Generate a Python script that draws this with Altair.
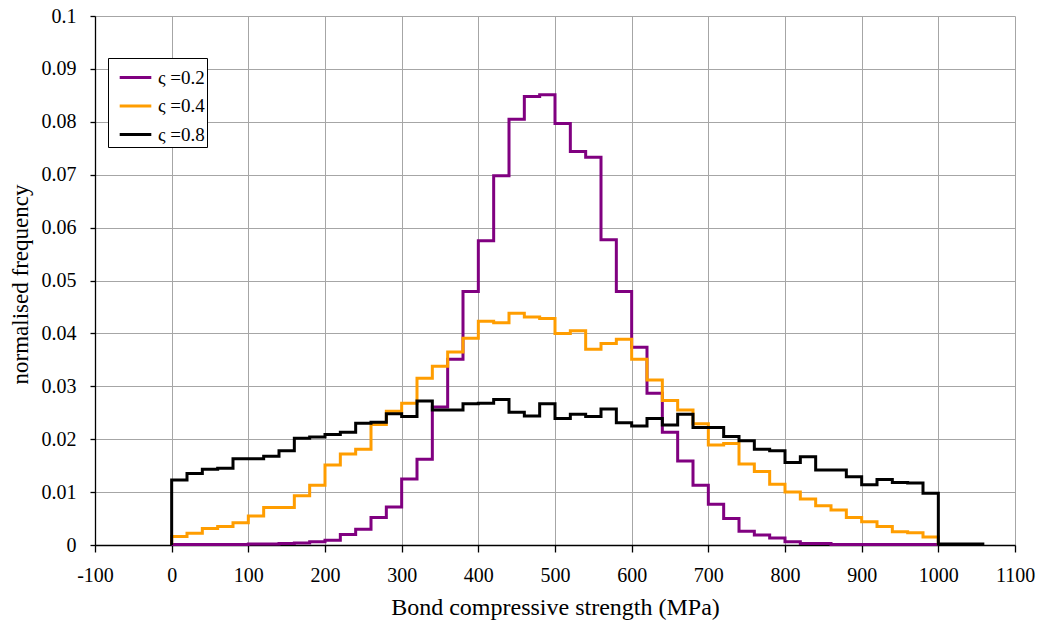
import altair as alt
import pandas as pd
import numpy as np

# Bin values (bin width 20 MPa, bins start at 0 .. 980)
purple_vals = [0.0001, 0.0001, 0.0001, 0.0001, 0.0001, 0.0002, 0.0002, 0.0003, 0.0004, 0.0006,
               0.0009, 0.0020, 0.0030, 0.0052, 0.0072, 0.0125, 0.0162, 0.0261, 0.0351, 0.0479,
               0.0575, 0.0698, 0.0805, 0.0848, 0.0851, 0.0797, 0.0744, 0.0733, 0.0577, 0.0479,
               0.0374, 0.0287, 0.0213, 0.0159, 0.0113, 0.0077, 0.0050, 0.0026, 0.0019, 0.0013,
               0.0006, 0.0003, 0.0003, 0.0001, 0.0001, 0.0001, 0.0001, 0.0001, 0.0001, 0.0001]
orange_vals = [0.0016, 0.0022, 0.0031, 0.0035, 0.0042, 0.0055, 0.0071, 0.0071, 0.0093, 0.0113,
               0.0151, 0.0172, 0.0181, 0.0228, 0.0253, 0.0268, 0.0315, 0.0338, 0.0365, 0.0391,
               0.0423, 0.0420, 0.0438, 0.0431, 0.0428, 0.0400, 0.0405, 0.0370, 0.0381, 0.0389,
               0.0351, 0.0312, 0.0273, 0.0255, 0.0229, 0.0189, 0.0192, 0.0153, 0.0139, 0.0115,
               0.0100, 0.0087, 0.0074, 0.0066, 0.0052, 0.0044, 0.0035, 0.0025, 0.0023, 0.0015]
black_vals = [0.0123, 0.0135, 0.0143, 0.0145, 0.0163, 0.0163, 0.0168, 0.0178, 0.0202, 0.0204,
              0.0209, 0.0213, 0.0230, 0.0232, 0.0248, 0.0243, 0.0272, 0.0255, 0.0255, 0.0267,
              0.0268, 0.0275, 0.0251, 0.0244, 0.0267, 0.0239, 0.0247, 0.0243, 0.0257, 0.0231,
              0.0225, 0.0239, 0.0227, 0.0247, 0.0222, 0.0222, 0.0205, 0.0197, 0.0181, 0.0178,
              0.0156, 0.0167, 0.0142, 0.0142, 0.0129, 0.0114, 0.0124, 0.0118, 0.0117, 0.0098]
black_tail = [0.0002, 0.0002, 0.0002, 0.0002]   # 1000..1060

labels = ["ς =0.2", "ς =0.4", "ς =0.8"]
colors = ["#800080", "#FF9D00", "#000000"]
bin_width = 20

rows = []
def add_series(name, vals, tail):
    i = 0
    rows.append({"s": name, "x": 0, "y": 0.0, "i": i}); i += 1
    for k, v in enumerate(vals):
        rows.append({"s": name, "x": k * bin_width, "y": v, "i": i}); i += 1
    for k, v in enumerate(tail):
        rows.append({"s": name, "x": 1000 + k * bin_width, "y": v, "i": i}); i += 1

add_series(labels[0], purple_vals, [0.0])
add_series(labels[1], orange_vals, [0.0])
add_series(labels[2], black_vals, black_tail)
df = pd.DataFrame(rows)

FONT = "Liberation Serif"

x_enc = alt.X("x:Q", scale=alt.Scale(domain=[-100, 1100], nice=False, zero=False),
              axis=alt.Axis(values=list(range(-100, 1101, 100)), title="Bond compressive strength (MPa)",
                            labelExpr="'' + datum.value",
                            tickSize=7, labelPadding=13, titleY=62, titleBaseline="middle",
                            labelFontSize=20, titleFontSize=24, labelFlush=False))
y_enc = alt.Y("y:Q", scale=alt.Scale(domain=[0, 0.1], nice=False),
              axis=alt.Axis(values=[round(v * 0.01, 2) for v in range(0, 11)], format=".2~f",
                            title="normalised frequency", tickSize=5, labelPadding=14,
                            titleX=-75, titleY=268, titleBaseline="middle", titleAngle=-90,
                            titleAlign="center", labelFontSize=20, titleFontSize=23, labelFlush=False))
color_enc = alt.Color("s:N", scale=alt.Scale(domain=labels, range=colors),
                      legend=alt.Legend(title=None, orient="none", legendX=13, legendY=42,
                                        strokeColor="black", fillColor="white", padding=2,
                                        symbolType="stroke", symbolSize=1000, symbolStrokeWidth=3,
                                        symbolOffset=8,
                                        labelExpr="datum.label + '\u2002\u2002'",
                                        labelFontSize=19, labelFont=FONT, rowPadding=0.5, labelOffset=5))

layers = []
for lab in labels:
    layers.append(
        alt.Chart(df).transform_filter(alt.datum.s == lab)
        .mark_line(interpolate="step-after", strokeWidth=3)
        .encode(x=x_enc, y=y_enc, color=color_enc, order="i:Q")
    )

chart = alt.layer(*layers).properties(
    width=920, height=529,
    autosize=alt.AutoSizeParams(type="none"),
    padding={"left": 95, "top": 16, "right": 27, "bottom": 78},
    background="white",
).configure_axis(
    labelFont=FONT, titleFont=FONT, labelColor="black", titleColor="black",
    titleFontWeight="normal", domainColor="black", tickColor="black",
    gridColor="#a6a6a6", gridWidth=1, domainWidth=1.3, tickWidth=1.3,
).configure_view(strokeWidth=0)

chart.save("out.html", embed_options={"renderer": "svg", "actions": False})
